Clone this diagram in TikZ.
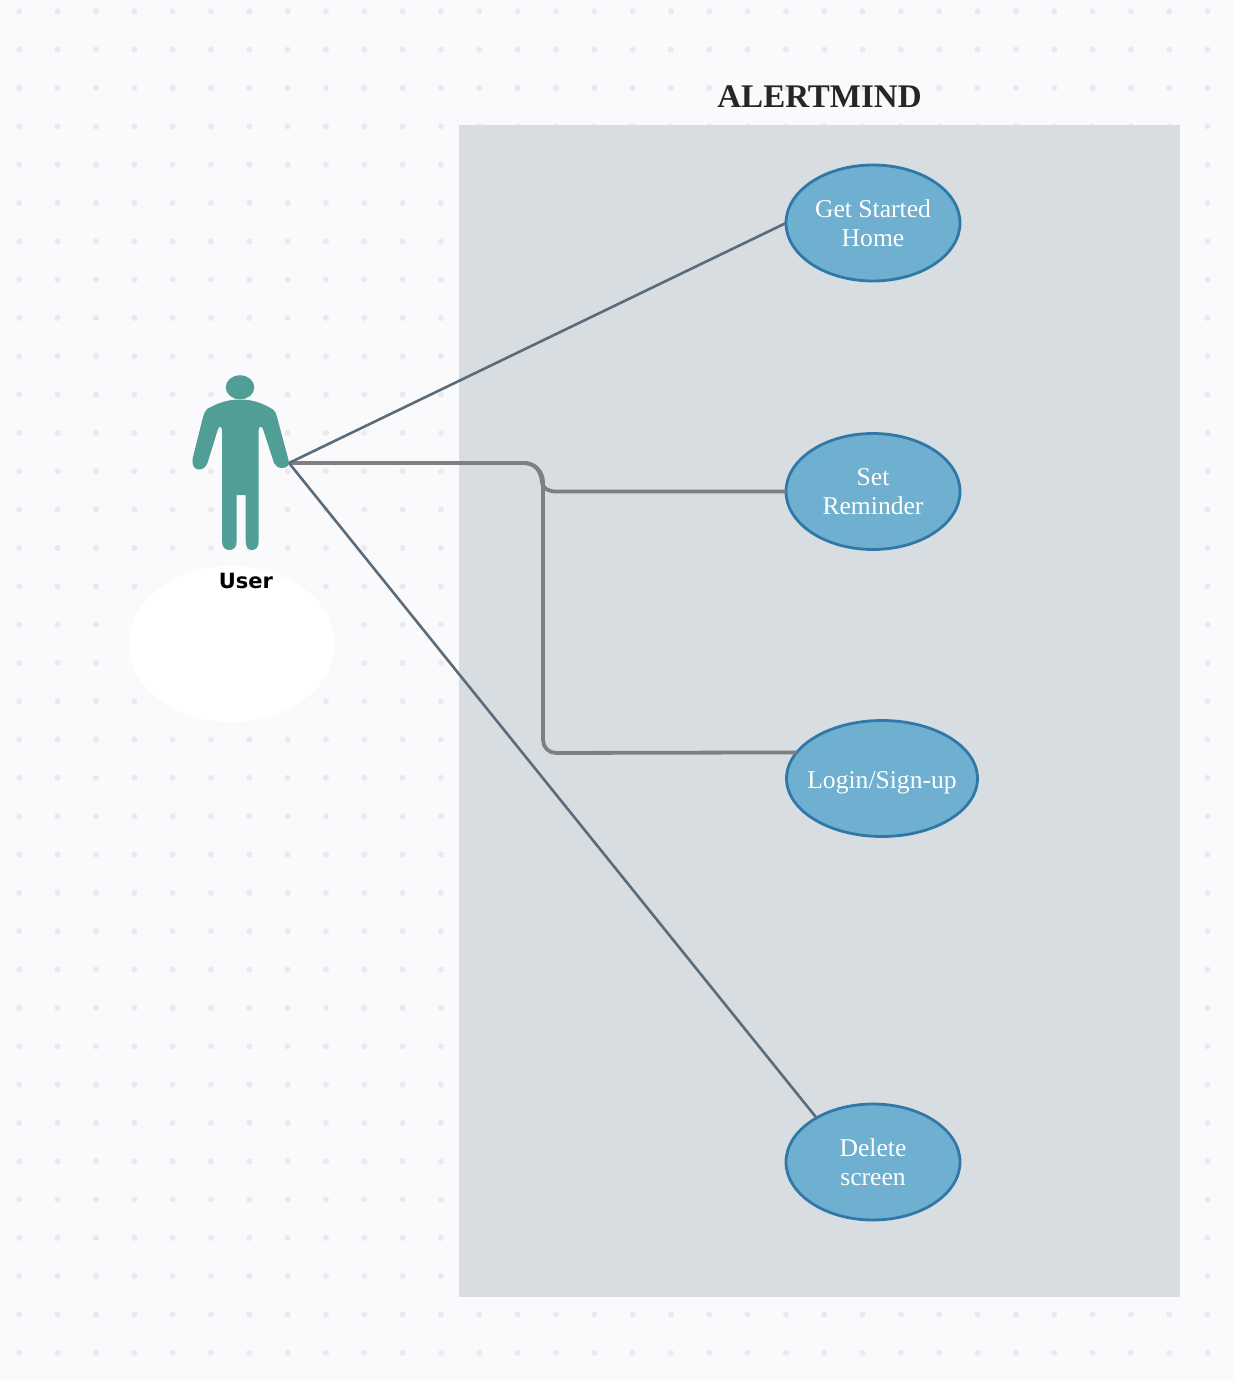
\documentclass[tikz,border=0pt]{standalone}
\usepackage{fontspec}
\setmainfont{Liberation Serif}
\newfontfamily\labelsans{DejaVu Sans}
\usetikzlibrary{shapes.geometric}
\definecolor{pagebg}{HTML}{FAFAFC}
\definecolor{griddot}{HTML}{E9EAED}
\definecolor{panelgray}{HTML}{D8DDE1}
\definecolor{ucfill}{HTML}{6FAFD0}
\definecolor{ucline}{HTML}{2F78A8}
\definecolor{actorteal}{HTML}{509E95}
\definecolor{slateline}{HTML}{5A6C7C}
\definecolor{elbowline}{HTML}{7F7F7F}
\tikzset{
  usecase/.style={ellipse,draw=ucline,fill=ucfill,line width=2.8pt,inner sep=0pt,outer sep=0pt,
    minimum width=174pt,minimum height=116pt,text=white,align=center,
    font=\fontsize{25.6}{29.5}\selectfont},
  slatelink/.style={draw=slateline,line width=2.6pt},
  elbowlink/.style={draw=elbowline,line width=3.8pt},
}
\begin{document}
\begin{tikzpicture}[x=1pt,y=-1pt]
\useasboundingbox (0,0) rectangle (1234,1380);
\fill[pagebg] (0,0) rectangle (1234,1380);
\foreach \i in {0,...,31}{\foreach \j in {0,...,35}{
  \fill[griddot] ({19.3+38.33*\i},{11.3+38.33*\j}) circle (3pt);
}}
\fill[panelgray] (459,125) rectangle (1180,1297);
\fill[white] (231.5,644) ellipse [x radius=103,y radius=78];
% actor
\fill[actorteal] (240,387.3) ellipse [x radius=14.3,y radius=12];
\fill[actorteal] (240,399.5)
  .. controls (226,399.5) and (216,404) .. (207,409)
  .. controls (205,411) and (204,414) .. (203,417)
  -- (192.8,458)
  .. controls (191.5,465) and (194,469.5) .. (199,469.5)
  .. controls (203,469.5) and (206,467) .. (207.5,463)
  -- (218,429)
  .. controls (219,426) and (222,426) .. (222,430)
  -- (222,541)
  .. controls (222,547) and (225,550) .. (229.3,550)
  .. controls (234,550) and (236.7,547) .. (236.7,541)
  -- (236.7,495) -- (245.7,495) -- (245.7,541)
  .. controls (245.7,547) and (248,550) .. (252,550)
  .. controls (256,550) and (258.7,547) .. (258.7,541)
  -- (258.7,430)
  .. controls (258.7,426) and (262,426) .. (263,429)
  -- (274,463)
  .. controls (275.5,466) and (278,468) .. (282,468)
  .. controls (287,468) and (290,465) .. (288.5,460)
  -- (277,417)
  .. controls (276,413) and (275,411) .. (273,409.5)
  .. controls (264,404) and (254,399.5) .. (240,399.5) -- cycle;
\coordinate (hand) at (289,463);
\node[inner sep=0pt,font=\labelsans\bfseries\fontsize{21}{21}\selectfont,text=black] (userlabel) at (246,581) {User};
\node[inner sep=0pt,font=\bfseries\fontsize{33}{36}\selectfont,text=black!85] (title) at (819.5,97) {ALERTMIND};
% use cases
\node[usecase] (e1) at (873,223) {Get Started\\Home};
\node[usecase] (e2) at (873,491.5) {Set\\Reminder};
\node[usecase,minimum width=191pt] (e3) at (882,778.5) {\makebox[0pt]{\raisebox{-9.5pt}[0pt][0pt]{Login/Sign-up}}};
\node[usecase] (e4) at (873,1162) {Delete\\screen};
% connectors
\coordinate (bendA) at (543,463);
\coordinate (bendB) at (543,753);
\coordinate (arcin) at (523,463);
\coordinate (arcmid) at (542,483);
\coordinate (arcout) at (556,491.5);
\draw[elbowlink] (hand) [rounded corners=19pt] -- (bendA) [rounded corners=13pt] -- (bendB) -- (e3.163.5);
\draw[elbowlink] (hand) -- (arcin) .. controls (535,463) and (541,470) .. (arcmid)
  .. controls (543,488) and (548,491.5) .. (arcout) -- (e2.west);
\draw[slatelink] (hand) -- (e1.west);
\draw[slatelink] (hand) -- (e4.142);
\end{tikzpicture}
\end{document}
